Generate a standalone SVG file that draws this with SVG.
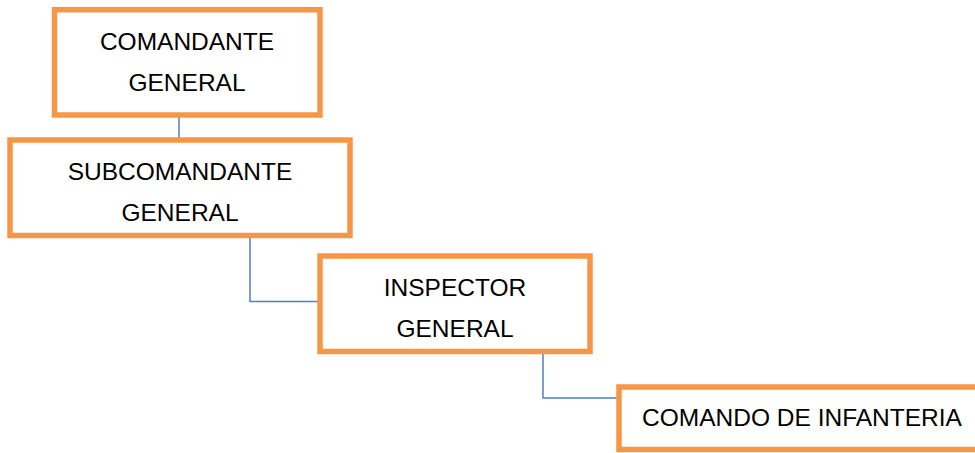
<svg xmlns="http://www.w3.org/2000/svg" width="975" height="453" viewBox="0 0 975 453">
<style>
.box{fill:#fff;stroke:#F79646;stroke-width:5.5}
.lbl{font-family:"Liberation Sans",Arial,sans-serif;font-size:24.5px;fill:#000;text-anchor:middle}
.con{fill:none;stroke:#4F81BD;stroke-width:1.5}
</style>
<rect width="975" height="453" fill="#fff"/>
<g id="connectors">
<path class="con" d="M179 117V138"/>
<path class="con" d="M250 238V301.5H320"/>
<path class="con" d="M543 354V398H619"/>
</g>
<g id="n1">
<rect class="box" x="54.5" y="9.7" width="265.5" height="105.3"/>
<text class="lbl" x="187" y="50">COMANDANTE</text>
<text class="lbl" x="187" y="91">GENERAL</text>
</g>
<g id="n2">
<rect class="box" x="10" y="140" width="340" height="95.5"/>
<text class="lbl" x="180" y="180">SUBCOMANDANTE</text>
<text class="lbl" x="180" y="220.5">GENERAL</text>
</g>
<g id="n3">
<rect class="box" x="320" y="256" width="270" height="95.5"/>
<text class="lbl" x="455" y="296">INSPECTOR</text>
<text class="lbl" x="455" y="336.5">GENERAL</text>
</g>
<g id="n4">
<rect class="box" x="619" y="387" width="370" height="62.5"/>
<text class="lbl" x="802" y="426">COMANDO DE INFANTERIA</text>
</g>
</svg>
